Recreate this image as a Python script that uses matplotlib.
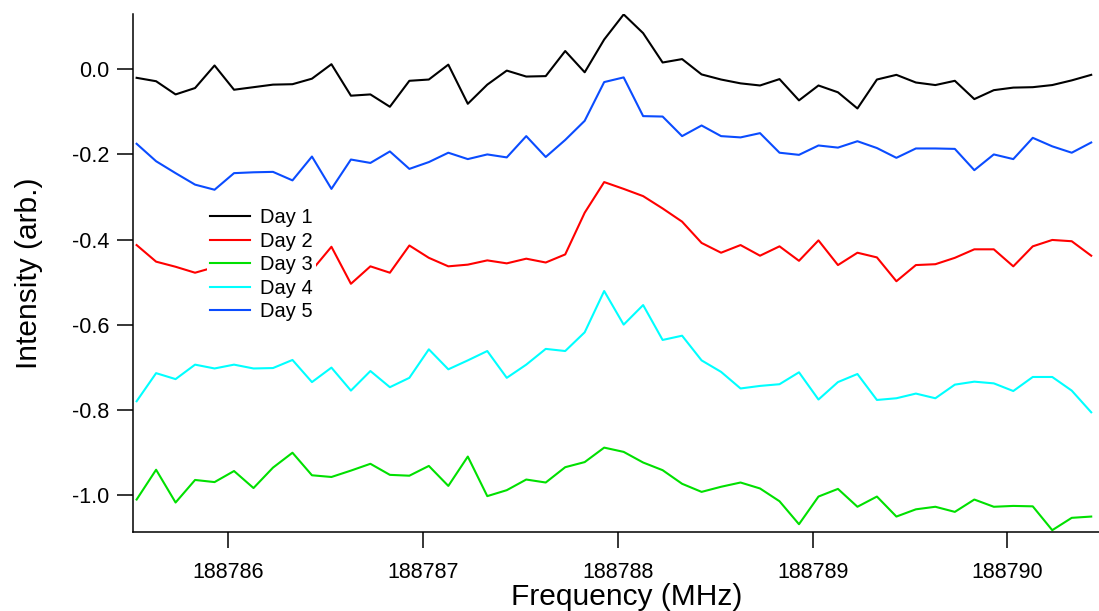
import matplotlib
matplotlib.use("Agg")
import matplotlib.pyplot as plt
from matplotlib.ticker import FormatStrFormatter

plt.rcParams['font.family'] = ['Liberation Sans', 'DejaVu Sans']

# frequency grid (MHz)
freq = [188785.53, 188785.63, 188785.73, 188785.83, 188785.93, 188786.03, 188786.13, 188786.23, 188786.33, 188786.43,
        188786.53, 188786.63, 188786.73, 188786.83, 188786.93, 188787.03, 188787.13, 188787.23, 188787.33, 188787.43,
        188787.53, 188787.63, 188787.73, 188787.83, 188787.93, 188788.03, 188788.13, 188788.23, 188788.33, 188788.43,
        188788.53, 188788.63, 188788.73, 188788.83, 188788.93, 188789.03, 188789.13, 188789.23, 188789.33, 188789.43,
        188789.53, 188789.63, 188789.73, 188789.83, 188789.93, 188790.03, 188790.13, 188790.23, 188790.33, 188790.43]

day1 = [-0.020, -0.028, -0.059, -0.044, 0.009, -0.048, -0.042, -0.036, -0.035, -0.022,
        0.012, -0.062, -0.059, -0.088, -0.027, -0.024, 0.011, -0.081, -0.036, -0.003,
        -0.017, -0.016, 0.043, -0.007, 0.070, 0.129, 0.085, 0.016, 0.024, -0.012,
        -0.024, -0.033, -0.038, -0.023, -0.073, -0.038, -0.054, -0.092, -0.024, -0.013,
        -0.031, -0.037, -0.027, -0.070, -0.049, -0.043, -0.042, -0.037, -0.026, -0.013]

day2 = [-0.413, -0.452, -0.464, -0.478, -0.465, -0.455, -0.470, -0.450, -0.460, -0.472,
        -0.417, -0.504, -0.463, -0.478, -0.414, -0.443, -0.463, -0.459, -0.449, -0.456,
        -0.445, -0.454, -0.435, -0.337, -0.265, -0.281, -0.298, -0.327, -0.358, -0.408,
        -0.431, -0.413, -0.438, -0.416, -0.450, -0.402, -0.460, -0.431, -0.442, -0.498,
        -0.460, -0.458, -0.443, -0.423, -0.423, -0.463, -0.416, -0.401, -0.404, -0.438]

day3 = [-1.011, -0.941, -1.018, -0.965, -0.970, -0.944, -0.984, -0.936, -0.901, -0.954,
        -0.958, -0.943, -0.927, -0.953, -0.955, -0.932, -0.979, -0.910, -1.003, -0.989,
        -0.964, -0.971, -0.935, -0.923, -0.889, -0.899, -0.924, -0.942, -0.974, -0.993,
        -0.981, -0.971, -0.985, -1.015, -1.069, -1.004, -0.986, -1.028, -1.004, -1.051,
        -1.034, -1.028, -1.040, -1.011, -1.028, -1.026, -1.027, -1.083, -1.054, -1.051]

day4 = [-0.780, -0.714, -0.728, -0.694, -0.703, -0.694, -0.703, -0.702, -0.683, -0.735,
        -0.701, -0.755, -0.709, -0.747, -0.725, -0.658, -0.705, -0.684, -0.662, -0.725,
        -0.694, -0.657, -0.662, -0.618, -0.521, -0.600, -0.554, -0.636, -0.626, -0.684,
        -0.711, -0.750, -0.744, -0.740, -0.712, -0.776, -0.735, -0.716, -0.777, -0.773,
        -0.762, -0.773, -0.741, -0.734, -0.738, -0.756, -0.723, -0.723, -0.755, -0.806]

day5 = [-0.175, -0.216, -0.244, -0.271, -0.283, -0.244, -0.242, -0.241, -0.261, -0.205,
        -0.281, -0.212, -0.220, -0.193, -0.234, -0.218, -0.196, -0.211, -0.200, -0.207,
        -0.157, -0.206, -0.166, -0.121, -0.030, -0.019, -0.110, -0.111, -0.157, -0.132,
        -0.157, -0.160, -0.150, -0.196, -0.201, -0.179, -0.184, -0.169, -0.185, -0.208,
        -0.186, -0.186, -0.187, -0.237, -0.200, -0.211, -0.161, -0.181, -0.196, -0.172]

labels = ["Day 1", "Day 2", "Day 3", "Day 4", "Day 5"]
colors = ["black", "#ff0000", "#00e000", "#00ffff", "#0a4cff"]

fig = plt.figure(figsize=(10.99, 6.11), dpi=100)
ax = fig.add_axes([0.1213, 0.1288, 0.8787, 0.8483])

for y, lab, c in zip([day1, day2, day3, day4, day5], labels, colors):
    ax.plot(freq, y, color=c, lw=1.5, label=lab)

ax.set_xlim(188785.513, 188790.47)
ax.set_ylim(-1.088, 0.130)
ax.set_xticks([188786, 188787, 188788, 188789, 188790])
ax.set_yticks([0.0, -0.2, -0.4, -0.6, -0.8, -1.0])
ax.xaxis.set_major_formatter(FormatStrFormatter('%d'))
ax.yaxis.set_major_formatter(FormatStrFormatter('%.1f'))

for side in ['top', 'right']:
    ax.spines[side].set_visible(False)
for side in ['left', 'bottom']:
    ax.spines[side].set_linewidth(1.1)
ax.tick_params(direction='out', length=11.5, width=1.1, labelsize=15.5)
ax.tick_params(axis='x', pad=10)
ax.tick_params(axis='y', pad=5.5)

ax.set_xlabel("Frequency (MHz)", fontsize=21.5)
ax.xaxis.set_label_coords(0.511, -0.097)
ax.set_ylabel("Intensity (arb.)", fontsize=21.5)
ax.yaxis.set_label_coords(-0.093, 0.5)

leg = ax.legend(loc='upper left', bbox_to_anchor=(207 / 1099, 1 - 205 / 611),
                bbox_transform=fig.transFigure, fontsize=14.5, frameon=True,
                framealpha=1, edgecolor='none', fancybox=False, borderpad=0.15,
                handlelength=2.0, handletextpad=0.5, labelspacing=0.225, borderaxespad=0)

fig.savefig("out.png", dpi=100)
